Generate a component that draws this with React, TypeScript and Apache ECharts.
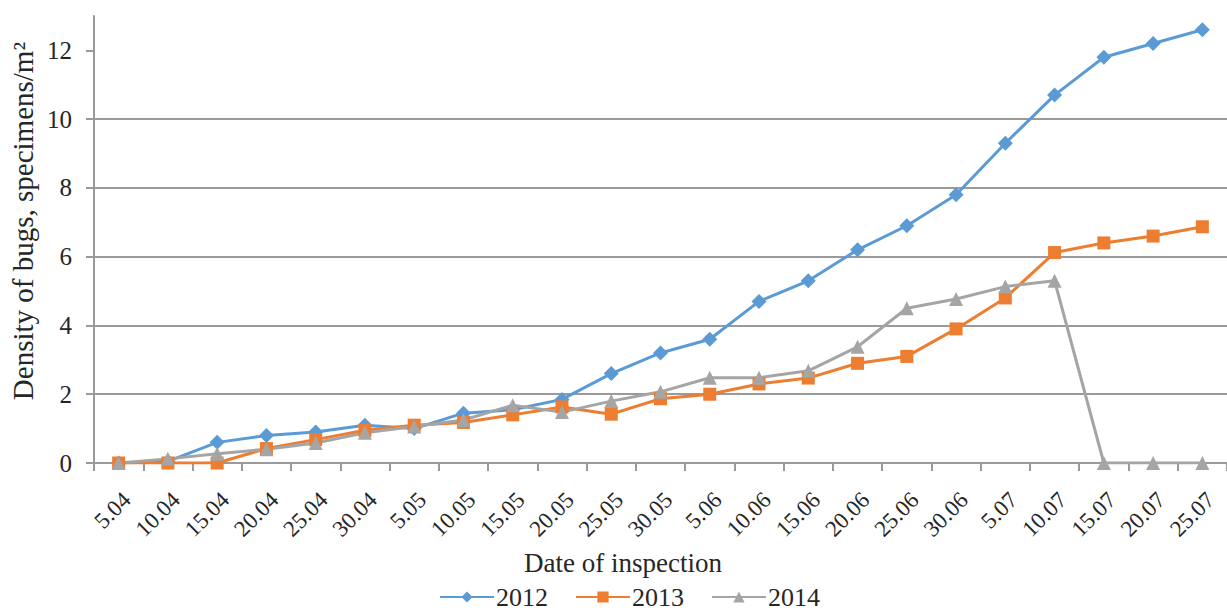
import React, { useEffect, useRef } from "react";
import * as echarts from "echarts";

const categories = [
  "5.04", "10.04", "15.04", "20.04", "25.04", "30.04",
  "5.05", "10.05", "15.05", "20.05", "25.05", "30.05",
  "5.06", "10.06", "15.06", "20.06", "25.06", "30.06",
  "5.07", "10.07", "15.07", "20.07", "25.07",
];

const data2012 = [0, 0.05, 0.6, 0.8, 0.9, 1.1, 1.0, 1.45, 1.55, 1.85, 2.6, 3.2, 3.6, 4.7, 5.3, 6.2, 6.9, 7.8, 9.3, 10.7, 11.8, 12.2, 12.6];
const data2013 = [0, 0, 0, 0.42, 0.68, 0.95, 1.1, 1.18, 1.4, 1.63, 1.42, 1.87, 2.0, 2.3, 2.47, 2.9, 3.1, 3.9, 4.8, 6.12, 6.4, 6.6, 6.87];
const data2014 = [0, 0.12, 0.27, 0.4, 0.58, 0.88, 1.06, 1.25, 1.68, 1.48, 1.8, 2.07, 2.48, 2.48, 2.68, 3.38, 4.5, 4.77, 5.13, 5.3, 0, 0, 0];

const yTicks = [0, 2, 4, 6, 8, 10, 12];

const seriesNames = ["2012", "2013", "2014"];
const colors = ["#5B9BD5", "#ED7D31", "#A5A5A5"];

const FONT = "'Liberation Serif', 'Times New Roman', serif";
const TEXT = "#262626";
const GRID = "#9a9a9a";

export default function App() {
  const ref = useRef<HTMLDivElement>(null);

  useEffect(() => {
    if (!ref.current) return;
    const chart = echarts.init(ref.current, null, { renderer: "svg" });
    const mk = (name: string, data: number[], color: string, symbol: string, size: number) => ({
      name,
      type: "line",
      data,
      symbol,
      symbolSize: size,
      lineStyle: { color, width: 3 },
      itemStyle: { color },
      emphasis: { disabled: true },
    });
    chart.setOption({
      animation: false,
      textStyle: { fontFamily: FONT },
      grid: { left: 94, right: -10, top: 16, bottom: 149, containLabel: false },
      legend: {
        left: 434,
        top: 579,
        itemWidth: 54,
        itemHeight: 14,
        itemGap: 27,
        textStyle: { fontFamily: FONT, fontSize: 26, color: TEXT, padding: [0, 0, 0, -3] },
        data: seriesNames,
      },
      xAxis: {
        type: "category",
        data: categories,
        boundaryGap: true,
        axisLine: { lineStyle: { color: GRID, width: 2 } },
        axisTick: { show: true, length: 8, lineStyle: { color: GRID, width: 2 } },
        axisLabel: {
          rotate: 45,
          interval: 0,
          margin: 25,
          align: "right",
          verticalAlign: "top",
          fontFamily: FONT,
          fontSize: 23,
          color: TEXT,
        },
        splitLine: { show: false },
      },
      yAxis: {
        type: "value",
        min: 0,
        max: 13,
        interval: 2,
        axisLine: { show: true, lineStyle: { color: GRID, width: 2 } },
        axisTick: { show: true, length: 8, lineStyle: { color: GRID, width: 2 }, customValues: yTicks },
        axisLabel: {
          margin: 22,
          fontFamily: FONT,
          fontSize: 25,
          color: TEXT,
          customValues: yTicks,
        },
        splitLine: { show: true, showMaxLine: false, lineStyle: { color: GRID, width: 2 } },
      },
      graphic: [
        {
          type: "text",
          x: 623,
          y: 563,
          style: {
            text: "Date of inspection",
            fontFamily: FONT,
            fontSize: 27,
            fill: TEXT,
            textAlign: "center",
            textVerticalAlign: "middle",
          },
        },
        {
          type: "text",
          x: 23,
          y: 221,
          rotation: Math.PI / 2,
          style: {
            text: "Density of bugs, specimens/m²",
            fontFamily: FONT,
            fontSize: 29,
            fill: TEXT,
            textAlign: "center",
            textVerticalAlign: "middle",
          },
        },
      ],
      series: [
        mk(seriesNames[0], data2012, colors[0], "diamond", 15),
        mk(seriesNames[1], data2013, colors[1], "rect", 13),
        mk(seriesNames[2], data2014, colors[2], "triangle", 14),
      ],
    });
    return () => chart.dispose();
  }, []);

  return (
    <div
      ref={ref}
      style={{ position: "absolute", left: 0, top: 0, width: 1227, height: 612, background: "#fff" }}
    />
  );
}
